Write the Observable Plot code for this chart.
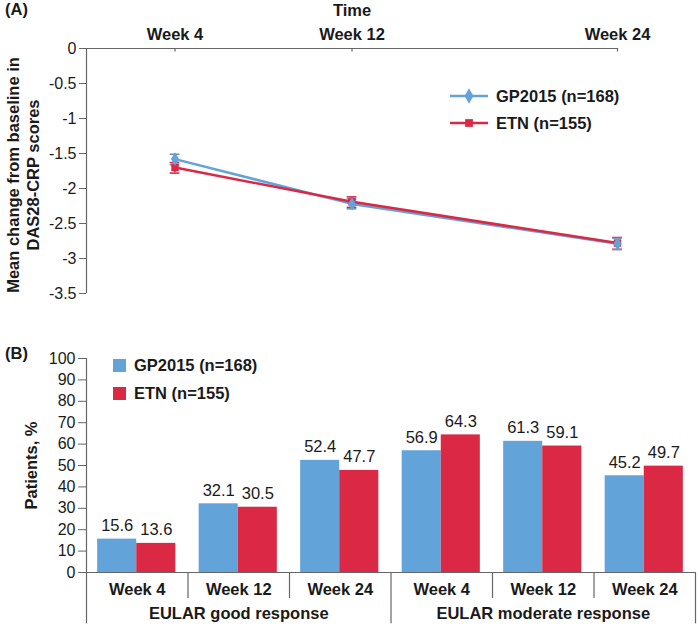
<!DOCTYPE html>
<html><head><meta charset="utf-8">
<script src="https://cdn.jsdelivr.net/npm/d3@7"></script>
<script src="https://cdn.jsdelivr.net/npm/@observablehq/plot@0.6"></script>
<style>
body{margin:0;background:#fff;font-family:"Liberation Sans",Arial,sans-serif;}
#wrap{position:relative;width:698px;height:629px;overflow:hidden;}
#wrap svg{position:absolute;left:0;}
.abs{position:absolute;font-weight:bold;font-size:16.5px;color:#1a1a1a;white-space:nowrap;line-height:20px;height:20px;display:flex;align-items:center;}
</style></head><body><div id="wrap"></div>
<script>
// ---- Data ----
const seriesNames = ["GP2015 (n=168)", "ETN (n=155)"];
const colors = ["#62A3D9", "#DA2845"];
const errColors = ["#7393BA", "#DA2845"];
const weeksNum = [4, 12, 24];
const weekLabels = ["Week 4", "Week 12", "Week 24"];
const gpMean = [-1.58, -2.22, -2.79];
const gpLow = [-1.66, -2.29, -2.87];
const gpHigh = [-1.51, -2.15, -2.71];
const etnMean = [-1.70, -2.19, -2.78];
const etnLow = [-1.78, -2.27, -2.87];
const etnHigh = [-1.63, -2.12, -2.70];
const yTicksA = [0, -0.5, -1, -1.5, -2, -2.5, -3, -3.5];
const groups = ["EULAR good response", "EULAR moderate response"];
const gpPct = [15.6, 32.1, 52.4, 56.9, 61.3, 45.2];
const etnPct = [13.6, 30.5, 47.7, 64.3, 59.1, 49.7];
const yTicksB = [0, 10, 20, 30, 40, 50, 60, 70, 80, 90, 100];

const FONT = '"Liberation Sans", Arial, sans-serif';
const AX = "#666";
const TXT = "#1a1a1a";

// ---- Panel A ----
const rowsA = [];
weeksNum.forEach((w, i) => {
  rowsA.push({series: seriesNames[1], k: 1, week: w, mean: etnMean[i], lo: etnLow[i], hi: etnHigh[i]});
});
weeksNum.forEach((w, i) => {
  rowsA.push({series: seriesNames[0], k: 0, week: w, mean: gpMean[i], lo: gpLow[i], hi: gpHigh[i]});
});
const lineOrder = rowsA.slice().sort((a, b) => a.k === b.k ? 0 : (a.k === 0 ? -1 : 1));
const capW = 0.22;

const plotA = Plot.plot({
  width: 698, height: 310,
  marginLeft: 86, marginRight: 81, marginTop: 48, marginBottom: 17,
  style: {fontFamily: FONT, background: "transparent", overflow: "visible", color: TXT},
  x: {domain: [0, 24], axis: null},
  y: {domain: [-3.5, 0], axis: null},
  color: {domain: seriesNames, range: colors},
  symbol: {domain: seriesNames, range: ["diamond", "square"]},
  marks: [
    Plot.axisY({ticks: yTicksA, tickFormat: d => String(d), tickSize: 7, tickPadding: 3, fontSize: 16, label: null, stroke: AX, fill: TXT}),
    Plot.axisX({anchor: "top", ticks: weeksNum, tickFormat: d => weekLabels[weeksNum.indexOf(d)], tickSize: 0, tickPadding: 9, fontSize: 16.5, fontWeight: "bold", label: null, fill: TXT}),
    Plot.ruleX([0], {y1: -3.5, y2: 0, stroke: AX, strokeWidth: 1.2}),
    Plot.ruleY([0], {x1: 0, x2: 24, stroke: AX, strokeWidth: 1.2}),
    Plot.ruleX(weeksNum, {x: d => d, y1: 0, y2: -0.05, stroke: AX, strokeWidth: 1.2}),
    Plot.line(lineOrder, {x: "week", y: "mean", stroke: "series", z: "series", strokeWidth: 2.5}),
    Plot.ruleX(rowsA, {x: "week", y1: "lo", y2: "hi", stroke: d => errColors[d.k], strokeWidth: 1.5}),
    Plot.ruleY(rowsA, {y: "lo", x1: d => d.week - capW, x2: d => d.week + capW, stroke: d => errColors[d.k], strokeWidth: 1.6}),
    Plot.ruleY(rowsA, {y: "hi", x1: d => d.week - capW, x2: d => d.week + capW, stroke: d => errColors[d.k], strokeWidth: 1.6}),
    Plot.dot(rowsA, {x: "week", y: "mean", fill: "series", symbol: "series", r: 4.2, stroke: "none"}),
    Plot.text(["Time"], {frameAnchor: "top", dy: -33, lineAnchor: "bottom", fontWeight: "bold", fontSize: 16.5, fill: TXT}),
    Plot.text(["Mean change from baseline in\nDAS28-CRP scores"], {frameAnchor: "left", rotate: -90, dx: -64, dy: 4, lineHeight: 1.2, fontWeight: "bold", fontSize: 16.5, fill: TXT, textAnchor: "middle"})
  ]
});

// ---- Panel B ----
const rowsB = [];
gpPct.forEach((v, i) => rowsB.push({idx: i, s: 0, series: seriesNames[0], value: v}));
etnPct.forEach((v, i) => rowsB.push({idx: i, s: 1, series: seriesNames[1], value: v}));
const cats = [];
groups.forEach((g, gi) => weekLabels.forEach((w, wi) => cats.push({idx: gi * 3 + wi, group: g, week: w})));
const bounds = d3.range(0, cats.length + 1);
const PAD = 0.11, BW = 0.385;

const plotB = Plot.plot({
  width: 698, height: 319,
  marginLeft: 86, marginRight: 3, marginTop: 48, marginBottom: 57,
  style: {fontFamily: FONT, background: "transparent", overflow: "visible", color: TXT},
  x: {domain: [0, cats.length], axis: null},
  y: {domain: [0, 100], axis: null},
  color: {domain: seriesNames, range: colors},
  marks: [
    Plot.axisY({ticks: yTicksB, tickSize: 8, tickPadding: 3, fontSize: 16, label: null, stroke: AX, fill: TXT}),
    Plot.rect(rowsB, {x1: d => d.idx + PAD + d.s * BW, x2: d => d.idx + PAD + (d.s + 1) * BW, y1: 0, y2: "value", fill: "series"}),
    Plot.text(rowsB, {x: d => d.idx + PAD + (d.s + 0.5) * BW, y: "value", text: d => d.value.toFixed(1), dy: -8, lineAnchor: "bottom", fontSize: 16.5, fill: TXT}),
    Plot.ruleY([0], {x1: 0, x2: cats.length, stroke: AX, strokeWidth: 1.2}),
    Plot.ruleX([0], {y1: 0, y2: 100, stroke: AX, strokeWidth: 1.2}),
    Plot.ruleX(bounds, {x: d => d, y1: 0, y2: d => (d % 3 === 0 ? -24 : -12.2), stroke: AX, strokeWidth: 1.2}),
    Plot.text(cats, {x: d => d.idx + 0.5, y: 0, text: "week", dy: 22, lineAnchor: "bottom", fontWeight: "bold", fontSize: 16.5, fill: TXT}),
    Plot.text(groups, {x: (d, i) => i * 3 + 1.5, y: 0, text: d => d, dy: 46, lineAnchor: "bottom", fontWeight: "bold", fontSize: 16.5, fill: TXT}),
    Plot.text(["Patients, %"], {frameAnchor: "left", rotate: -90, dx: -55, fontWeight: "bold", fontSize: 16.5, fill: TXT, textAnchor: "middle"})
  ]
});

// ---- Assemble ----
const wrap = document.getElementById("wrap");
plotA.style.top = "0px";
plotB.style.top = "310px";
wrap.appendChild(plotA);
wrap.appendChild(plotB);

function label(text, left, top) {
  const d = document.createElement("div");
  d.className = "abs";
  d.style.left = left + "px";
  d.style.top = top + "px";
  d.textContent = text;
  wrap.appendChild(d);
  return d;
}
label("(A)", 5, -1);
label("(B)", 5, 343);

// Legend A (line + symbol)
const symPaths = [d3.symbol(d3.symbolDiamond, 70)(), d3.symbol(d3.symbolSquare, 60)()];
const legA = [96, 123];
seriesNames.forEach((n, i) => {
  const d = document.createElement("div");
  d.className = "abs";
  d.style.left = "450px";
  d.style.top = (legA[i] - 10) + "px";
  d.innerHTML = `<svg width="38" height="20" style="position:static;margin-right:8px"><line x1="0" x2="38" y1="10" y2="10" stroke="${colors[i]}" stroke-width="2.5"/><path d="${symPaths[i]}" transform="translate(19,10)" fill="${colors[i]}"/></svg><span>${n}</span>`;
  wrap.appendChild(d);
});
// Legend B (squares)
const legB = [365, 393];
seriesNames.forEach((n, i) => {
  const d = document.createElement("div");
  d.className = "abs";
  d.style.left = "113px";
  d.style.top = (legB[i] - 10) + "px";
  d.innerHTML = `<span style="display:inline-block;width:13px;height:13px;background:${colors[i]};margin-right:8px"></span><span>${n}</span>`;
  wrap.appendChild(d);
});
</script></body></html>
